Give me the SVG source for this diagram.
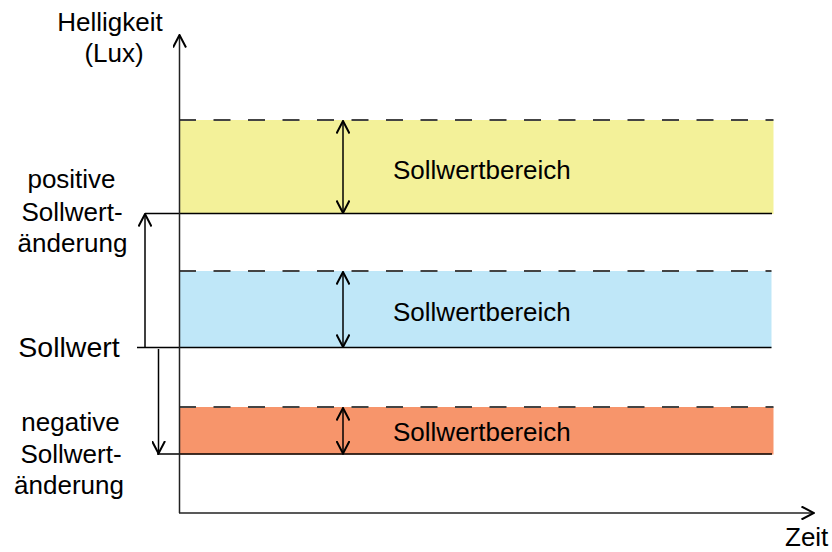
<svg xmlns="http://www.w3.org/2000/svg" width="832" height="552" viewBox="0 0 832 552">
<style>
text{font-family:"Liberation Sans",Arial,sans-serif;font-size:26px;fill:#000}
.big{font-size:28.5px}
.dash{stroke:#444;stroke-width:2;stroke-dasharray:17 17.5;fill:none}
.solid{stroke:#000;stroke-width:1.5;fill:none}
.axis{stroke:#222;stroke-width:1.5;fill:none}
.arr{stroke:#000;stroke-width:1.5;fill:none}
</style>
<defs>
<marker id="ah" viewBox="0 0 14 14" refX="13" refY="7" markerWidth="14" markerHeight="14" markerUnits="userSpaceOnUse" orient="auto-start-reverse">
<path d="M0.5,0.5 L13,7 L0.5,13.5" fill="none" stroke="#000" stroke-width="2"/>
</marker>
</defs>
<rect width="832" height="552" fill="#fff"/>
<g id="band-yellow">
<rect x="179" y="120" width="594.5" height="94" fill="#F3F199"/>
<line class="dash" x1="179" y1="120" x2="773.5" y2="120"/>
<line class="solid" x1="145" y1="213.5" x2="772" y2="213.5"/>
<text x="393" y="179">Sollwertbereich</text>
</g>
<g id="band-blue">
<rect x="179" y="271" width="592.5" height="77" fill="#BFE7F8"/>
<line class="dash" x1="179" y1="271" x2="771.5" y2="271"/>
<line class="solid" x1="137" y1="347.5" x2="771.5" y2="347.5"/>
<text x="393" y="321">Sollwertbereich</text>
</g>
<g id="band-orange">
<rect x="179" y="407" width="594.5" height="47.5" fill="#F7956B"/>
<line class="dash" x1="179" y1="407" x2="773.5" y2="407"/>
<line class="solid" x1="157" y1="454" x2="772" y2="454"/>
<text x="393" y="441">Sollwertbereich</text>
</g>
<g id="axes">
<line class="axis" x1="179.5" y1="513" x2="179.5" y2="35" marker-end="url(#ah)"/>
<line class="axis" x1="179" y1="513" x2="814" y2="513" marker-end="url(#ah)"/>
</g>
<g id="labels">
<text x="110" y="31" text-anchor="middle">Helligkeit</text>
<text x="114" y="62" text-anchor="middle">(Lux)</text>
<text x="71.5" y="188" text-anchor="middle">positive</text>
<text x="72" y="221" text-anchor="middle">Sollwert-</text>
<text x="72.5" y="252" text-anchor="middle">änderung</text>
<text class="big" x="69" y="357" text-anchor="middle">Sollwert</text>
<text x="70.5" y="431" text-anchor="middle">negative</text>
<text x="71" y="463" text-anchor="middle">Sollwert-</text>
<text x="69" y="494" text-anchor="middle">änderung</text>
<text x="785" y="546">Zeit</text>
</g>
<g id="connectors">
<line class="arr" x1="343" y1="121" x2="343" y2="213" marker-start="url(#ah)" marker-end="url(#ah)"/>
<line class="arr" x1="343" y1="272" x2="343" y2="347" marker-start="url(#ah)" marker-end="url(#ah)"/>
<line class="arr" x1="343" y1="408" x2="343" y2="453.5" marker-start="url(#ah)" marker-end="url(#ah)"/>
<line class="arr" x1="145" y1="347.5" x2="145" y2="214" marker-end="url(#ah)"/>
<line class="arr" x1="158.5" y1="349" x2="158.5" y2="453.5" marker-end="url(#ah)"/>
</g>
</svg>
